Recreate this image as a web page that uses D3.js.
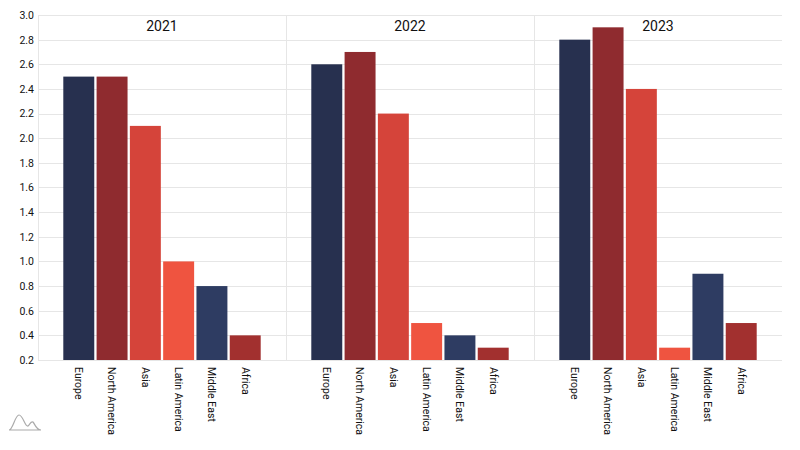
<!DOCTYPE html>
<html><head><meta charset="utf-8">
<script src="https://cdn.jsdelivr.net/npm/d3@7"></script>
<style>body{margin:0;background:#fff}svg{display:block;font-family:Roboto,sans-serif}</style>
</head><body><svg id="c" width="800" height="450"></svg>
<script>
const years = ["2021","2022","2023"];
const regions = ["Europe","North America","Asia","Latin America","Middle East","Africa"];
const v2021 = [2.5,2.5,2.1,1.0,0.8,0.4];
const v2022 = [2.6,2.7,2.2,0.5,0.4,0.3];
const v2023 = [2.8,2.9,2.4,0.3,0.9,0.5];
const yTicks = [0.2,0.4,0.6,0.8,1.0,1.2,1.4,1.6,1.8,2.0,2.2,2.4,2.6,2.8,3.0];
const colors = ["#27304f","#8f2b2f","#d5443a","#ef5440","#2e3c62","#a2302f"];
const series = [v2021,v2022,v2023];

const svg = d3.select("#c");
const L=38, R=782, T=15, B=360;
const y = d3.scaleLinear().domain([0.2,3.0]).range([B,T]);
const px = d3.scaleBand().domain(years).range([L,R]);
const bx = d3.scaleBand().domain(regions).range([0,px.bandwidth()]).paddingInner(0.07).paddingOuter(0.76);

// grid
svg.append("g").selectAll("line").data(yTicks).join("line")
  .attr("x1",L).attr("x2",R).attr("y1",d=>Math.round(y(d))+0.5).attr("y2",d=>Math.round(y(d))+0.5)
  .attr("stroke","#e6e6e6").attr("stroke-width",1);
// panel dividers
svg.append("g").selectAll("line").data(years).join("line")
  .attr("x1",d=>Math.round(px(d))+0.5).attr("x2",d=>Math.round(px(d))+0.5).attr("y1",T).attr("y2",B)
  .attr("stroke","#e6e6e6");

// y axis labels
const ya = svg.append("g").attr("transform",`translate(${L},0)`)
  .call(d3.axisLeft(y).tickValues(yTicks).tickFormat(d3.format(".1f")).tickSize(0).tickPadding(4));
ya.select(".domain").remove();
ya.selectAll("text").attr("font-size",10.5).attr("fill","#111").attr("font-family","Roboto,sans-serif");

years.forEach((yr,i)=>{
  const g = svg.append("g").attr("transform",`translate(${px(yr)},0)`);
  g.append("text").attr("x",px.bandwidth()/2).attr("y",31).attr("text-anchor","middle")
    .attr("font-size",14).attr("fill","#111").text(yr);
  g.selectAll("rect").data(regions).join("rect")
    .attr("x",d=>bx(d)).attr("width",bx.bandwidth())
    .attr("y",(d,j)=>y(series[i][j])).attr("height",(d,j)=>y(0.2)-y(series[i][j]))
    .attr("fill",(d,j)=>colors[j]);
  g.selectAll("text.cat").data(regions).join("text").attr("class","cat")
    .attr("transform",d=>`translate(${bx(d)+bx.bandwidth()/2},${B+7}) rotate(90)`)
    .attr("dy","0.35em").attr("font-size",10.5).attr("fill","#111").text(d=>d);
});

// logo
svg.append("path").attr("d","M9,430 C13,430 15,415 19,415 C23,415 25,427 28,426 C30,424 31,421 33,422 C35,424 36,430 41,430 M9,430 L41,430")
  .attr("fill","none").attr("stroke","#aaa").attr("stroke-width",1.2);
</script></body></html>
